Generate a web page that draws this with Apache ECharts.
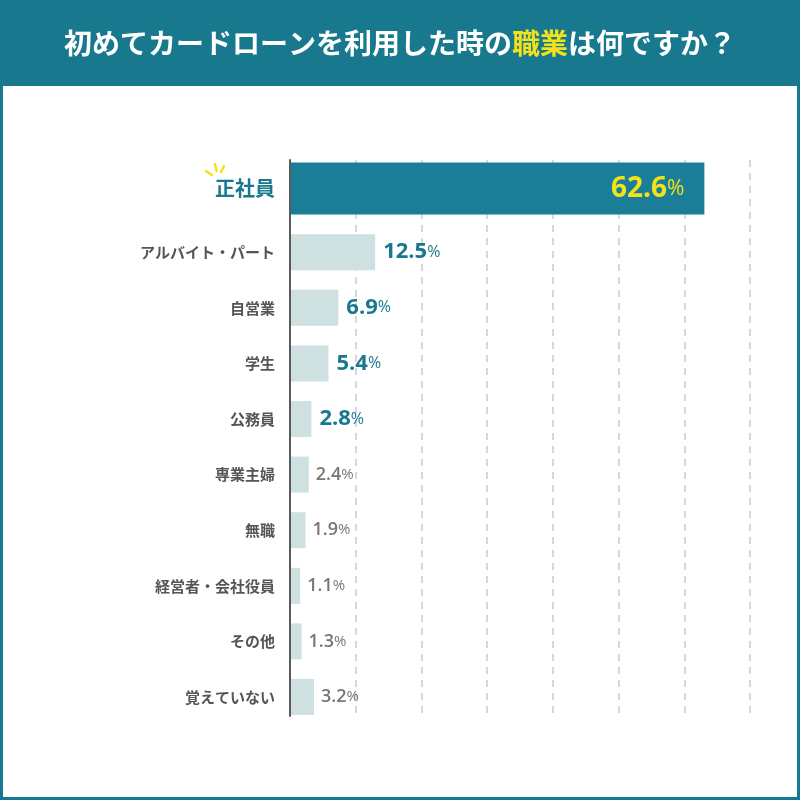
<!DOCTYPE html>
<html><head><meta charset="utf-8">
<script src="https://cdn.jsdelivr.net/npm/echarts@6/dist/echarts.min.js"></script>
<style>html,body{margin:0;padding:0;background:#fff}#c{width:800px;height:800px}</style>
</head><body><div id="c"></div>
<script>
const titleParts = ['初めてカードローンを利用した時の', '職業', 'は何ですか？'];
const categories = ['正社員','アルバイト・パート','自営業','学生','公務員','専業主婦','無職','経営者・会社役員','その他','覚えていない'];
const values = [62.6, 12.5, 6.9, 5.4, 2.8, 2.4, 1.9, 1.1, 1.3, 3.2];
const axisMax = 70, axisStep = 10;

const TEAL = '#18788e', BAR1 = '#1b7e98', LIGHT = '#cfe0e1', YELLOW = '#f3e21a', GRAY = '#555', VGRAY = '#777';
const JP = '"Noto Sans CJK JP", sans-serif';
const NUM = '"Open Sans", "Noto Sans", sans-serif';

function renderItem(params, api) {
  const i = params.dataIndex;
  const v = api.value(1);
  const p0 = api.coord([0, i]);
  const p1 = api.coord([v, i]);
  const slot = api.size([0, 1])[1];
  const h = i === 0 ? 52 : 36;
  const bottom = p0[1] + slot / 2 - 1;
  const top = bottom - h;
  const cy = top + h / 2;
  const children = [{
    type: 'rect', z2: 5,
    shape: { x: p0[0] + 1, y: top, width: p1[0] - p0[0] + 2, height: h },
    style: { fill: i === 0 ? BAR1 : LIGHT }
  }];
  let numStyle, pctStyle, lx, la;
  const end = p1[0] + 3;
  if (i === 0) {
    numStyle = { fontFamily: NUM, fontWeight: 'bold', fontSize: 28, fill: YELLOW };
    pctStyle = { fontFamily: NUM, fontWeight: 'normal', fontSize: 21, fill: YELLOW };
    lx = end - 20; la = 'right';
  } else if (i <= 4) {
    numStyle = { fontFamily: NUM, fontWeight: 'bold', fontSize: 22, fill: TEAL };
    pctStyle = { fontFamily: NUM, fontWeight: 'normal', fontSize: 16, fill: TEAL };
    lx = end + 8; la = 'left';
  } else {
    numStyle = { fontFamily: NUM, fontWeight: 600, fontSize: 18, fill: VGRAY };
    pctStyle = { fontFamily: NUM, fontWeight: 'normal', fontSize: 15, fill: VGRAY };
    lx = end + 7; la = 'left';
  }
  children.push({
    type: 'text', z2: 10,
    style: {
      text: '{n|' + v.toFixed(1) + '}{p|%}',
      rich: { n: numStyle, p: pctStyle },
      x: lx, y: cy, align: la, textAlign: la, verticalAlign: 'middle', textVerticalAlign: 'middle'
    }
  });
  children.push({
    type: 'text', z2: 10,
    style: {
      text: categories[i],
      x: p0[0] - 15, y: cy,
      fontFamily: JP, fontWeight: 'bold', fontSize: i === 0 ? 20 : 15,
      fill: i === 0 ? TEAL : GRAY,
      align: 'right', textAlign: 'right', verticalAlign: 'middle', textVerticalAlign: 'middle'
    }
  });
  return { type: 'group', children };
}

const chart = echarts.init(document.getElementById('c'), null, { renderer: 'canvas' });
chart.setOption({
  animation: false,
  backgroundColor: '#fff',
  title: {
    text: '{a|' + titleParts[0] + '}{b|' + titleParts[1] + '}{a|' + titleParts[2] + '}',
    left: 'center', top: 24,
    textStyle: {
      rich: {
        a: { fontFamily: JP, fontWeight: 'bold', fontSize: 28, color: '#fff' },
        b: { fontFamily: JP, fontWeight: 'bold', fontSize: 28, color: YELLOW }
      }
    }
  },
  graphic: [
    { type: 'rect', z: -10, shape: { x: 0, y: 0, width: 800, height: 86 }, style: { fill: TEAL } },
    { type: 'rect', z: -10, shape: { x: 0, y: 0, width: 3, height: 800 }, style: { fill: TEAL } },
    { type: 'rect', z: -10, shape: { x: 797, y: 0, width: 3, height: 800 }, style: { fill: TEAL } },
    { type: 'rect', z: -10, shape: { x: 0, y: 797, width: 800, height: 3 }, style: { fill: TEAL } },
    { type: 'line', z: 10, shape: { x1: 206, y1: 171, x2: 212, y2: 175 }, style: { stroke: YELLOW, lineWidth: 2.5, lineCap: 'round' } },
    { type: 'line', z: 10, shape: { x1: 215, y1: 164, x2: 216.5, y2: 171 }, style: { stroke: YELLOW, lineWidth: 2.5, lineCap: 'round' } },
    { type: 'line', z: 10, shape: { x1: 224, y1: 166, x2: 221, y2: 172 }, style: { stroke: YELLOW, lineWidth: 2.5, lineCap: 'round' } }
  ],
  grid: { left: 290, right: 50, top: 160, bottom: 84 },
  xAxis: {
    type: 'value', min: 0, max: axisMax, interval: axisStep,
    axisLine: { show: false }, axisTick: { show: false }, axisLabel: { show: false },
    splitLine: { show: true, lineStyle: { color: '#cccccc', type: [7, 6], width: 1.5 } }
  },
  yAxis: {
    type: 'category', inverse: true, data: categories,
    axisLine: { show: true, lineStyle: { color: '#5a5a5a', width: 2 } },
    axisTick: { show: false }, axisLabel: { show: false }, splitLine: { show: false }
  },
  series: [{
    type: 'custom', coordinateSystem: 'cartesian2d',
    encode: { x: 1, y: 0 },
    data: categories.map((c, i) => [c, values[i]]),
    renderItem
  }]
});
</script>
</body></html>
